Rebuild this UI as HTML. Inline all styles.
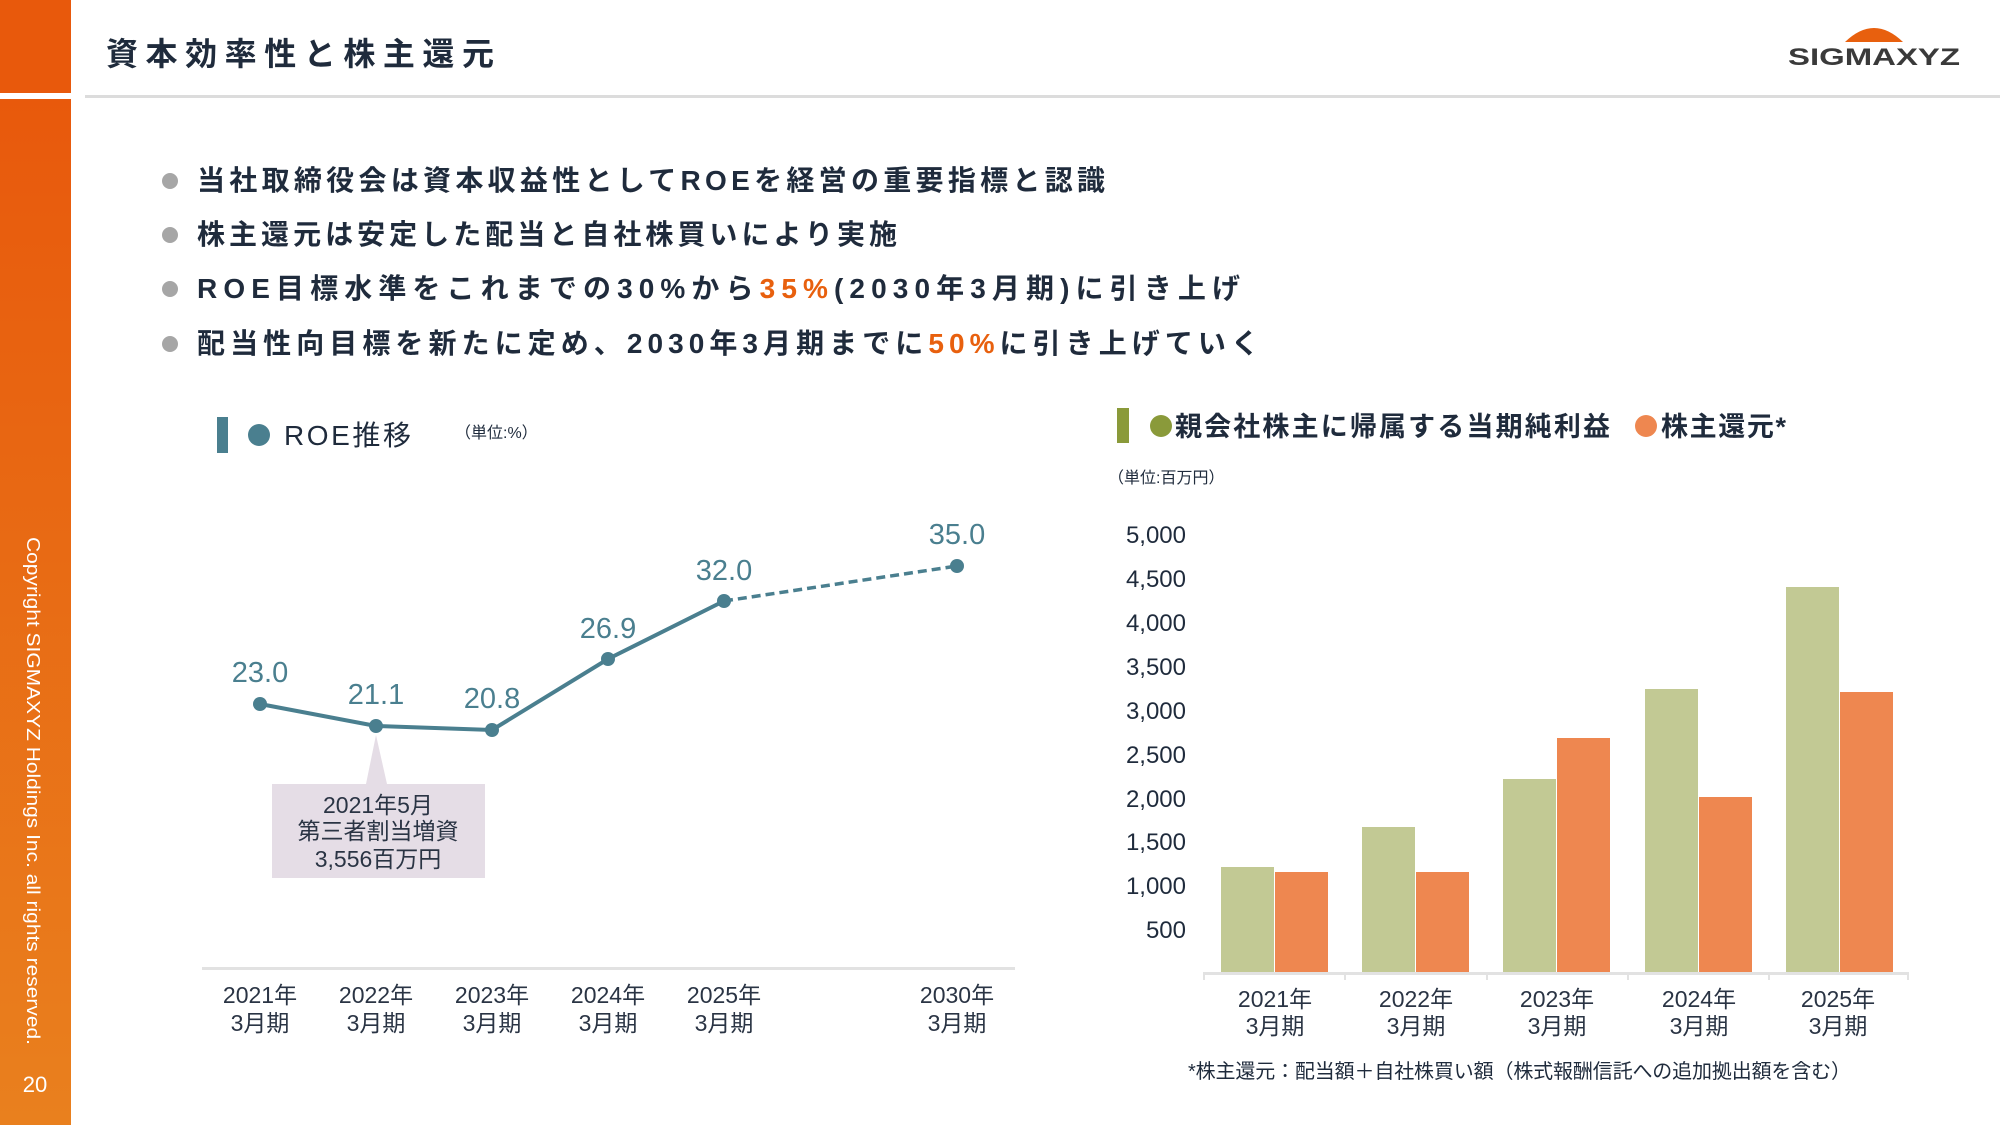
<!DOCTYPE html>
<html><head><meta charset="utf-8"><style>
html,body{margin:0;padding:0;background:#fff;}
body{width:2000px;height:1125px;overflow:hidden;position:relative;font-family:"Liberation Sans","Noto Sans CJK JP",sans-serif;}
svg text{font-family:"Liberation Sans","Noto Sans CJK JP",sans-serif;}
</style></head><body>
<svg width="2000" height="1125" viewBox="0 0 2000 1125" xmlns="http://www.w3.org/2000/svg">
<defs><linearGradient id="g" x1="0" y1="0" x2="0" y2="1"><stop offset="0" stop-color="#e8590c"/><stop offset="1" stop-color="#e9801e"/></linearGradient></defs>
<rect x="0" y="0" width="71" height="93" fill="#e8590c"/>
<rect x="0" y="99" width="71" height="1026" fill="url(#g)"/>
<text transform="translate(27,537) rotate(90)" font-size="18" fill="#fff" textLength="508" lengthAdjust="spacingAndGlyphs">Copyright SIGMAXYZ Holdings Inc. all rights reserved.</text>
<text x="35" y="1092" font-size="22" fill="#fff" text-anchor="middle">20</text>
<text x="106" y="65" font-size="32" font-weight="bold" fill="#1f2b3c" textLength="388" lengthAdjust="spacing">資本効率性と株主還元</text>
<rect x="85" y="95" width="1915" height="3" fill="#dcdcdc"/>
<path d="M1845,42 Q1874,14 1903,42 Z" fill="#e8600e"/>
<text x="1788" y="65" font-size="24" font-weight="bold" fill="#3a3a3a" font-family="Liberation Serif,serif" textLength="172" lengthAdjust="spacingAndGlyphs">SIGMAXYZ</text>
<g font-size="28" fill="#1f2b3c" font-weight="bold">
<circle cx="170" cy="181" r="8" fill="#a6a6a6"/><text x="197" y="190" textLength="908" lengthAdjust="spacing">当社取締役会は資本収益性としてROEを経営の重要指標と認識</text>
<circle cx="170" cy="235" r="8" fill="#a6a6a6"/><text x="197" y="244" textLength="700" lengthAdjust="spacing">株主還元は安定した配当と自社株買いにより実施</text>
<circle cx="170" cy="289" r="8" fill="#a6a6a6"/><text x="197" y="298" textLength="1043" lengthAdjust="spacing">ROE目標水準をこれまでの30%から<tspan fill="#e8600e">35%</tspan>(2030年3月期)に引き上げ</text>
<circle cx="170" cy="344" r="8" fill="#a6a6a6"/><text x="197" y="353" textLength="1062" lengthAdjust="spacing">配当性向目標を新たに定め、2030年3月期までに<tspan fill="#e8600e">50%</tspan>に引き上げていく</text>
</g>
<!-- ROE -->
<rect x="217" y="417" width="11" height="36" fill="#4a7f8f"/>
<circle cx="259" cy="435" r="11" fill="#4a7f8f"/>
<text x="284" y="445" font-size="28" fill="#1f2b3c" textLength="127" lengthAdjust="spacing">ROE推移</text>
<text x="455" y="438" font-size="16" fill="#1f2b3c">（単位:%）</text>
<rect x="202" y="967" width="813" height="3" fill="#e2e2e2"/>
<polyline points="260,704 376,726 492,730 608,659 724,601" fill="none" stroke="#4a7f8f" stroke-width="4"/>
<line x1="724" y1="601" x2="957" y2="566" stroke="#4a7f8f" stroke-width="3.5" stroke-dasharray="9,5"/>
<g fill="#4a7f8f"><circle cx="260" cy="704" r="7"/><circle cx="376" cy="726" r="7"/><circle cx="492" cy="730" r="7"/><circle cx="608" cy="659" r="7"/><circle cx="724" cy="601" r="7"/><circle cx="957" cy="566" r="7"/></g>
<g font-size="29" fill="#4a7f8f" text-anchor="middle">
<text x="260" y="682">23.0</text><text x="376" y="704">21.1</text><text x="492" y="708">20.8</text><text x="608" y="638">26.9</text><text x="724" y="580">32.0</text><text x="957" y="544">35.0</text></g>
<polygon points="376,735 366,784 387,784" fill="#e5dde6"/>
<rect x="272" y="784" width="213" height="94" fill="#e5dde6"/>
<g font-size="23" fill="#2a3444" text-anchor="middle"><text x="378" y="813">2021年5月</text><text x="378" y="839">第三者割当増資</text><text x="378" y="867">3,556百万円</text></g>
<g font-size="23" fill="#2a3444" text-anchor="middle">
<text x="260" y="1003">2021年</text><text x="260" y="1031">3月期</text>
<text x="376" y="1003">2022年</text><text x="376" y="1031">3月期</text>
<text x="492" y="1003">2023年</text><text x="492" y="1031">3月期</text>
<text x="608" y="1003">2024年</text><text x="608" y="1031">3月期</text>
<text x="724" y="1003">2025年</text><text x="724" y="1031">3月期</text>
<text x="957" y="1003">2030年</text><text x="957" y="1031">3月期</text></g>
<!-- Bar chart -->
<rect x="1117" y="408" width="12" height="35" fill="#8a9a3a"/>
<circle cx="1161" cy="426" r="11" fill="#8a9a3a"/>
<text x="1175" y="436" font-size="27" fill="#1f2b3c" font-weight="bold" textLength="435" lengthAdjust="spacing">親会社株主に帰属する当期純利益</text>
<circle cx="1646" cy="426" r="11" fill="#ee8750"/>
<text x="1661" y="436" font-size="27" fill="#1f2b3c" font-weight="bold" textLength="125" lengthAdjust="spacing">株主還元*</text>
<text x="1108" y="483" font-size="16" fill="#1f2b3c">（単位:百万円）</text>
<g font-size="24" fill="#1f2b3c" text-anchor="end">
<text x="1186" y="543">5,000</text><text x="1186" y="587">4,500</text><text x="1186" y="631">4,000</text><text x="1186" y="675">3,500</text><text x="1186" y="719">3,000</text><text x="1186" y="763">2,500</text><text x="1186" y="807">2,000</text><text x="1186" y="850">1,500</text><text x="1186" y="894">1,000</text><text x="1186" y="938">500</text></g>
<g fill="#c2c994">
<rect x="1221" y="867" width="53" height="105"/><rect x="1362" y="827" width="53" height="145"/><rect x="1503" y="779" width="53" height="193"/><rect x="1645" y="689" width="53" height="283"/><rect x="1786" y="587" width="53" height="385"/></g>
<g fill="#ee8750">
<rect x="1275" y="872" width="53" height="100"/><rect x="1416" y="872" width="53" height="100"/><rect x="1557" y="738" width="53" height="234"/><rect x="1699" y="797" width="53" height="175"/><rect x="1840" y="692" width="53" height="280"/></g>
<rect x="1203" y="972" width="706" height="3" fill="#e2e2e2"/>
<g fill="#e2e2e2"><rect x="1203" y="972" width="2" height="8"/><rect x="1344" y="972" width="2" height="8"/><rect x="1486" y="972" width="2" height="8"/><rect x="1627" y="972" width="2" height="8"/><rect x="1768" y="972" width="2" height="8"/><rect x="1907" y="972" width="2" height="8"/></g>
<g font-size="23" fill="#2a3444" text-anchor="middle">
<text x="1275" y="1007">2021年</text><text x="1275" y="1034">3月期</text>
<text x="1416" y="1007">2022年</text><text x="1416" y="1034">3月期</text>
<text x="1557" y="1007">2023年</text><text x="1557" y="1034">3月期</text>
<text x="1699" y="1007">2024年</text><text x="1699" y="1034">3月期</text>
<text x="1838" y="1007">2025年</text><text x="1838" y="1034">3月期</text></g>
<text x="1188" y="1078" font-size="20" fill="#1f2b3c" textLength="663" lengthAdjust="spacing">*株主還元：配当額＋自社株買い額（株式報酬信託への追加拠出額を含む）</text>
</svg>
</body></html>
